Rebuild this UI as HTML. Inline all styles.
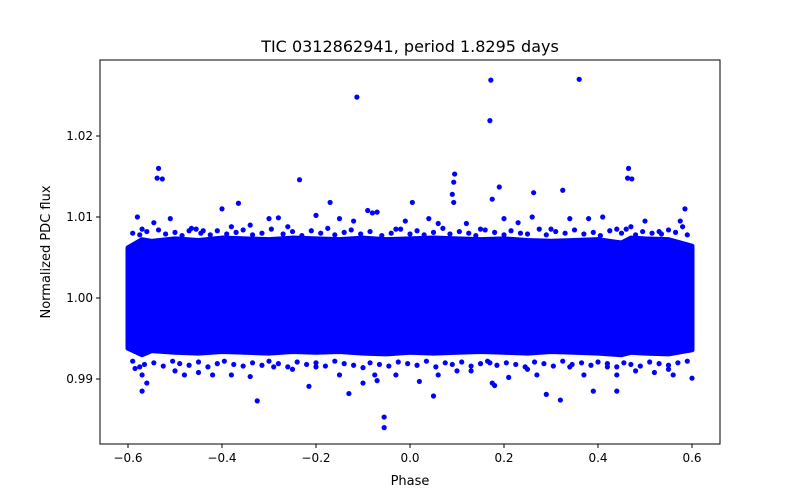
<!DOCTYPE html>
<html><head><meta charset="utf-8">
<style>body{margin:0;background:#fff}svg{display:block;font-family:"DejaVu Sans","Liberation Sans",sans-serif}</style>
</head><body>
<svg id="chart" width="800" height="500" viewBox="0 0 800 500">
<rect width="800" height="500" fill="#fff"/>
<g id="plot"></g>
</svg>
<script>
const bandPhase = [-0.6,-0.57,-0.55,-0.5,-0.45,-0.4,-0.35,-0.3,-0.25,-0.2,-0.15,-0.1,-0.05,0,0.05,0.1,0.15,0.2,0.25,0.3,0.35,0.4,0.45,0.47,0.5,0.55,0.6];
const bandUpper = [1.0062,1.0072,1.0070,1.0073,1.0071,1.0074,1.0073,1.0072,1.0074,1.0073,1.0072,1.0074,1.0072,1.0073,1.0074,1.0073,1.0072,1.0073,1.0071,1.0070,1.0071,1.0072,1.0068,1.0074,1.0073,1.0072,1.0064];
const bandLower = [0.9938,0.9930,0.9935,0.9933,0.9932,0.9934,0.9933,0.9932,0.9934,0.9933,0.9934,0.9932,0.9931,0.9933,0.9932,0.9933,0.9934,0.9933,0.9932,0.9934,0.9933,0.9932,0.9930,0.9933,0.9932,0.9931,0.9936];
const ptPhase = [-0.535,-0.538,-0.527,-0.113,0.172,0.17,0.36,0.095,0.093,0.09,0.093,0.175,0.19,0.263,0.325,0.465,0.463,0.472,-0.235,-0.17,-0.4,-0.07,-0.365,0.585,0.005,-0.325,-0.055,-0.055,-0.57,0.05,-0.13,0.29,0.32,0.39,0.44,0.6,0.175,0.18,-0.215,-0.585,
-0.58,-0.57,-0.545,-0.51,-0.47,-0.455,-0.44,-0.38,-0.34,-0.3,-0.28,-0.26,-0.2,-0.15,-0.12,-0.09,-0.08,-0.03,-0.01,0.04,0.06,0.12,0.15,0.2,0.23,0.26,0.3,0.34,0.38,0.41,0.44,0.47,0.5,0.53,0.575,0.58,
-0.57,-0.56,-0.5,-0.48,-0.45,-0.42,-0.38,-0.34,-0.29,-0.25,-0.2,-0.15,-0.1,-0.075,-0.07,-0.03,0.02,0.06,0.1,0.13,0.17,0.21,0.25,0.27,0.34,0.37,0.42,0.44,0.48,0.52,0.55,0.56];
const ptFlux = [1.016,1.0148,1.0147,1.0248,1.0269,1.0219,1.027,1.0153,1.0143,1.0128,1.0118,1.0122,1.0137,1.013,1.0133,1.016,1.0148,1.0147,1.0146,1.0118,1.011,1.0106,1.0117,1.011,1.0118,0.9873,0.9853,0.984,0.9885,0.9879,0.9882,0.9881,0.9874,0.9885,0.9885,0.9901,0.9895,0.9892,0.9891,0.9913,
1.010,1.0085,1.0093,1.0098,1.0083,1.0085,1.0083,1.0088,1.009,1.0098,1.0099,1.0088,1.0102,1.0098,1.0095,1.0108,1.0105,1.0085,1.0095,1.0098,1.0092,1.0092,1.0085,1.0098,1.0093,1.01,1.0085,1.0098,1.0098,1.01,1.0085,1.0088,1.0095,1.0082,1.0095,1.0088,
0.9905,0.9895,0.991,0.9905,0.9908,0.9905,0.9905,0.9903,0.9915,0.9912,0.9915,0.9905,0.9895,0.9905,0.9898,0.9905,0.9897,0.9905,0.991,0.991,0.992,0.9902,0.9912,0.9905,0.9915,0.9905,0.9915,0.9905,0.991,0.9908,0.9912,0.9905];
const fringeUpPhase = [-0.59,-0.575,-0.56,-0.535,-0.52,-0.5,-0.485,-0.465,-0.445,-0.425,-0.41,-0.39,-0.37,-0.355,-0.335,-0.315,-0.295,-0.27,-0.25,-0.23,-0.21,-0.19,-0.175,-0.16,-0.14,-0.125,-0.105,-0.085,-0.06,-0.04,-0.02,0.0,0.015,0.03,0.05,0.07,0.085,0.105,0.125,0.14,0.16,0.18,0.2,0.215,0.235,0.25,0.275,0.29,0.31,0.33,0.35,0.37,0.39,0.405,0.425,0.45,0.46,0.48,0.495,0.515,0.535,0.55,0.565,0.59];
const fringeUpFlux = [1.0080,1.0078,1.0082,1.0084,1.0079,1.0081,1.0077,1.0086,1.0080,1.0078,1.0083,1.0079,1.0081,1.0084,1.0078,1.0080,1.0085,1.0079,1.0082,1.0077,1.0083,1.0080,1.0086,1.0078,1.0081,1.0084,1.0079,1.0082,1.0077,1.0080,1.0085,1.0079,1.0083,1.0078,1.0081,1.0086,1.0079,1.0082,1.0080,1.0077,1.0084,1.0081,1.0078,1.0083,1.0080,1.0079,1.0085,1.0078,1.0082,1.0080,1.0084,1.0079,1.0081,1.0077,1.0083,1.0080,1.0085,1.0078,1.0082,1.0080,1.0079,1.0084,1.0081,1.0078];
const fringeLoPhase = [-0.59,-0.575,-0.565,-0.545,-0.525,-0.505,-0.49,-0.47,-0.45,-0.43,-0.41,-0.395,-0.375,-0.355,-0.335,-0.315,-0.3,-0.28,-0.26,-0.24,-0.22,-0.2,-0.18,-0.16,-0.14,-0.12,-0.1,-0.085,-0.065,-0.045,-0.025,-0.005,0.015,0.035,0.055,0.075,0.09,0.11,0.13,0.15,0.165,0.185,0.205,0.225,0.245,0.265,0.285,0.305,0.325,0.345,0.365,0.385,0.4,0.42,0.44,0.455,0.47,0.49,0.51,0.53,0.55,0.57,0.59];
const fringeLoFlux = [0.9922,0.9915,0.9918,0.9920,0.9916,0.9922,0.9919,0.9917,0.9921,0.9915,0.9919,0.9922,0.9918,0.9916,0.9920,0.9917,0.9922,0.9919,0.9915,0.9921,0.9918,0.9920,0.9916,0.9922,0.9919,0.9917,0.9914,0.9920,0.9918,0.9916,0.9921,0.9919,0.9917,0.9922,0.9915,0.9920,0.9918,0.9921,0.9916,0.9919,0.9922,0.9917,0.9920,0.9918,0.9915,0.9921,0.9919,0.9916,0.9922,0.9918,0.9920,0.9917,0.9921,0.9919,0.9915,0.9920,0.9918,0.9916,0.9921,0.9919,0.9917,0.9920,0.9922];
const xTicks = [-0.6,-0.4,-0.2,0.0,0.2,0.4,0.6];
const xTickLabels = ["−0.6","−0.4","−0.2","0.0","0.2","0.4","0.6"];
const yTicks = [0.99,1.00,1.01,1.02];
const yTickLabels = ["0.99","1.00","1.01","1.02"];

const L=100,R=720,T=60,B=444;
const xs=p=>410+p*470;
const ys=f=>298-(f-1)*8100;
const NS="http://www.w3.org/2000/svg";
const g=document.getElementById('plot');
function mk(tag,attrs,parent){const e=document.createElementNS(NS,tag);for(const k in attrs)e.setAttribute(k,attrs[k]);(parent||g).appendChild(e);return e;}

let d="M"+bandPhase.map((p,i)=>xs(p)+","+ys(bandUpper[i])).join(" L");
for(let i=bandPhase.length-1;i>=0;i--)d+=" L"+xs(bandPhase[i])+","+ys(bandLower[i]);
d+=" Z";
const band=mk('path',{d:d,fill:'#0000ff',stroke:'#0000ff','stroke-width':5,'stroke-linejoin':'round'});


function drawPts(ph,fl){
  for(let i=0;i<ph.length;i++){
    const c=mk('circle',{cx:xs(ph[i]),cy:ys(fl[i]),r:2.6,fill:'#0000ff'});
    
    
  }
}
drawPts(fringeUpPhase,fringeUpFlux);
drawPts(fringeLoPhase,fringeLoFlux);
drawPts(ptPhase,ptFlux);
const fr=mk('rect',{x:L,y:T,width:R-L,height:B-T,fill:'none',stroke:'#000','stroke-width':1});


xTicks.forEach((t,i)=>{
  const x=xs(t);
  const ln=mk('line',{x1:x,y1:B,x2:x,y2:B+4,stroke:'#000'});
  
  
  const tx=mk('text',{x:x,y:B+18,'text-anchor':'middle','font-size':12});
  tx.textContent=xTickLabels[i];
  
  
});
yTicks.forEach((t,i)=>{
  const y=ys(t);
  const ln=mk('line',{x1:L-4,y1:y,x2:L,y2:y,stroke:'#000'});
  
  
  const tx=mk('text',{x:L-7,y:y+4,'text-anchor':'end','font-size':12});
  tx.textContent=yTickLabels[i];
  
  
});
const ti=mk('text',{x:410,y:52,'text-anchor':'middle','font-size':16});
ti.textContent="TIC 0312862941, period 1.8295 days";


const xl=mk('text',{x:410,y:485,'text-anchor':'middle','font-size':13});
xl.textContent="Phase";


const yl=mk('text',{x:50,y:252,'text-anchor':'middle','font-size':13,transform:'rotate(-90 50 252)'});
yl.textContent="Normalized PDC flux";


</script>
</body></html>
